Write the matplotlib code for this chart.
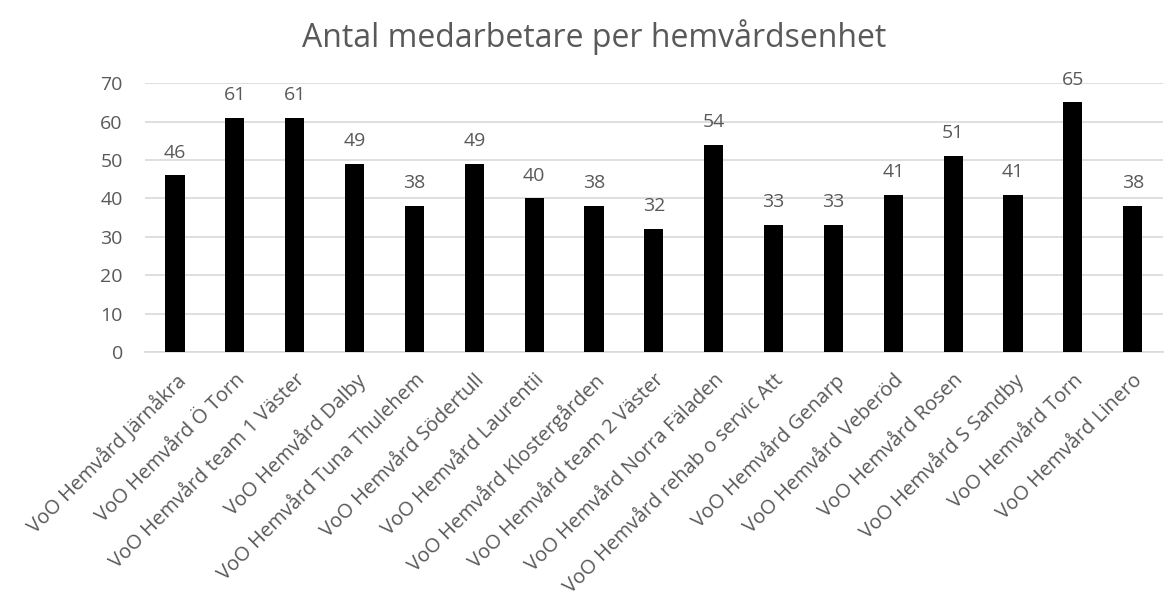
import matplotlib.pyplot as plt
import numpy as np

enheter = [
    "VoO Hemvård Järnåkra", "VoO Hemvård Ö Torn", "VoO Hemvård team 1 Väster",
    "VoO Hemvård Dalby", "VoO Hemvård Tuna Thulehem", "VoO Hemvård Södertull",
    "VoO Hemvård Laurentii", "VoO Hemvård Klostergården", "VoO Hemvård team 2 Väster",
    "VoO Hemvård Norra Fäladen", "VoO Hemvård rehab o servic Att", "VoO Hemvård Genarp",
    "VoO Hemvård Veberöd", "VoO Hemvård Rosen", "VoO Hemvård S Sandby",
    "VoO Hemvård Torn", "VoO Hemvård Linero",
]
antal = [46, 61, 61, 49, 38, 49, 40, 38, 32, 54, 33, 33, 41, 51, 41, 65, 38]
yticks = [0, 10, 20, 30, 40, 50, 60, 70]

plt.rcParams['font.family'] = ['Open Sans', 'DejaVu Sans']
textfarg = '#595959'

fig = plt.figure(figsize=(11.65, 6.03), dpi=100)
ax = fig.add_axes([0.1245, 0.416, 0.8735, 0.446])

x = np.arange(len(enheter))
staplar = ax.bar(x, antal, width=0.32, color='black', zorder=3)
for s, v in zip(staplar, antal):
    ax.annotate(str(v), (s.get_x() + s.get_width() / 2, v), xytext=(0, 10),
                textcoords='offset points', ha='center', va='bottom',
                fontsize=14, color=textfarg)

ax.set_xlim(-0.5, len(enheter) - 0.5)
ax.set_ylim(0, 70)
ax.set_yticks(yticks)
ax.yaxis.grid(True, color='#d9d9d9', linewidth=1.2, zorder=0)
ax.set_xticks(x)
ax.set_xticklabels(enheter, rotation=45, ha='right', rotation_mode='anchor',
                   fontsize=14.5, color=textfarg)
ax.tick_params(axis='y', length=0, labelsize=14, colors=textfarg, pad=16)
ax.tick_params(axis='x', length=0, colors=textfarg, pad=13)
for side in ['top', 'right', 'left']:
    ax.spines[side].set_visible(False)
ax.spines['bottom'].set_color('#d9d9d9')
ax.spines['bottom'].set_linewidth(1.2)

fig.text(0.51, 0.938, "Antal medarbetare per hemvårdsenhet", ha='center', va='center',
         fontsize=23, color=textfarg)

fig.savefig('out.png', dpi=100)
